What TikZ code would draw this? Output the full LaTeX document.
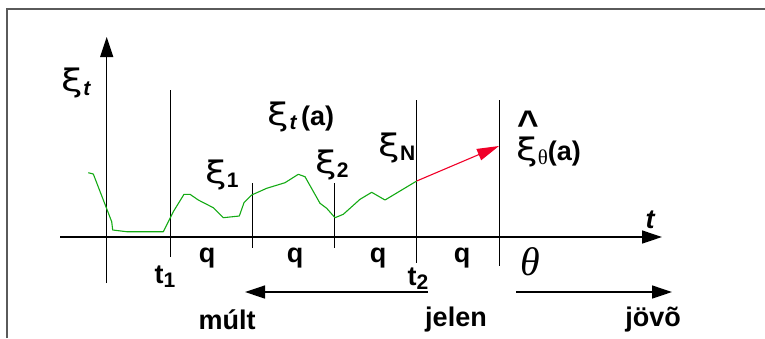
\documentclass[tikz,border=0pt]{standalone}
\usepackage{fontspec}
\usepackage{graphicx}
\setmainfont{Liberation Sans}
\newfontfamily\grk{Liberation Serif}
\newfontfamily\xifont{DejaVu Sans}
\usetikzlibrary{arrows.meta}
\definecolor{curvegreen}{RGB}{20,170,20}
\definecolor{predred}{RGB}{240,0,40}
\definecolor{framegray}{RGB}{90,90,90}
\newcommand\bigxi{{\xifont\mdseries\fontsize{31}{33}\selectfont\scalebox{1.25}[1]{ξ}}}
\newcommand\subs[1]{\raisebox{-4pt}{\fontsize{21}{24}\selectfont\bfseries #1}}
\begin{document}
\begin{tikzpicture}[x=1pt,y=-1pt,
  lbl/.style={font=\fontsize{27}{30}\selectfont\bfseries, inner sep=0pt},
  axis/.style={line width=1.3pt, -{Triangle[length=20pt,width=13pt]}},
  tick/.style={line width=1pt},
  timearrow/.style={line width=1.3pt, -{Triangle[length=20pt,width=13pt]}},
  frameline/.style={line width=2pt, framegray}]
\useasboundingbox (0,0) rectangle (765,338);
% frame
\coordinate (fr1) at (7,338);
\coordinate (fr2) at (7,9);
\coordinate (fr3) at (765,9);
\draw[frameline] (fr1) -- (fr2) -- (fr3);
% axes
\coordinate (yb) at (106.7,283);
\coordinate (yt) at (106.7,37);
\coordinate (xl) at (60,237);
\coordinate (xr) at (662,237);
\draw[axis] (yb) -- (yt);
\draw[axis] (xl) -- (xr);
% vertical lines
\coordinate (a1) at (170,90);  \coordinate (a2) at (170,257);
\coordinate (b1) at (252,183); \coordinate (b2) at (252,248);
\coordinate (c1) at (334,183); \coordinate (c2) at (334,248);
\coordinate (d1) at (416.7,100); \coordinate (d2) at (416.7,263);
\coordinate (e1) at (499,100); \coordinate (e2) at (499,266);
\draw[tick] (a1) -- (a2);
\draw[tick] (b1) -- (b2);
\draw[tick] (c1) -- (c2);
\draw[tick] (d1) -- (d2);
\draw[tick] (e1) -- (e2);
% curve
\coordinate (now) at (416.7,181);
\coordinate (pred) at (499,146);
\draw[curvegreen, line width=1.1pt, line join=round]
  (88.3,172.7) -- (93.3,174) -- (111.7,221.7) -- (112.7,230) -- (126.7,231.7)
  -- (163.3,231.7) -- (173.3,211.7) -- (184,194.3) -- (190,194.3) -- (198.3,200)
  -- (213.3,207.7) -- (223.3,217.7) -- (239.3,216) -- (244,202.7) -- (251.7,195)
  -- (266.7,188.3) -- (285,182.7) -- (298.3,174.3) -- (305,176.7) -- (320,203.3)
  -- (326.7,208.3) -- (335,217.7) -- (343.3,214.3) -- (360,199.3) -- (371.7,192.3)
  -- (385,200) -- (now);
\draw[predred, line width=1.1pt, -{Triangle[length=22pt,width=12pt]}] (now) -- (pred);
% time arrows
\coordinate (pastS) at (428,292);
\coordinate (pastE) at (245,292);
\coordinate (futS) at (516,292);
\coordinate (futE) at (672,292);
\draw[timearrow] (pastS) -- (pastE);
\draw[timearrow] (futS) -- (futE);
% labels
\node[lbl] (lxit) at (76,83) {\bigxi\subs{\itshape t}};
\node[lbl] (lxia) at (301,117) {\bigxi\subs{\itshape t}\,(a)};
\node[lbl] (lxi1) at (222,175) {\bigxi\subs{1}};
\node[lbl] (lxi2) at (332,165) {\bigxi\subs{2}};
\node[lbl] (lxiN) at (397,148) {\bigxi\subs{N}};
\node[lbl, anchor=base west] (lxith) at (516,160)
  {\rlap{\hspace{1pt}\raisebox{24pt}{\fontsize{37}{37}\selectfont\textasciicircum}}\bigxi\subs{\grk\mdseries θ}(a)};
\node[lbl] (lt) at (650,220) {\itshape t};
\node[font=\grk\itshape\fontsize{40}{42}\selectfont, inner sep=0pt] (lth) at (530,262) {θ};
\node[lbl] (q1) at (207,258) {q};
\node[lbl] (q2) at (295,258) {q};
\node[lbl] (q3) at (378,258) {q};
\node[lbl] (q4) at (462,258) {q};
\node[lbl] (lt1) at (165,277) {t\subs{1}};
\node[lbl] (lt2) at (418,279) {t\subs{2}};
\node[lbl] (lmult) at (227,320) {múlt};
\node[lbl] (ljelen) at (456,320) {jelen};
\node[lbl] (ljovo) at (653,320) {jövõ};
\end{tikzpicture}
\end{document}
